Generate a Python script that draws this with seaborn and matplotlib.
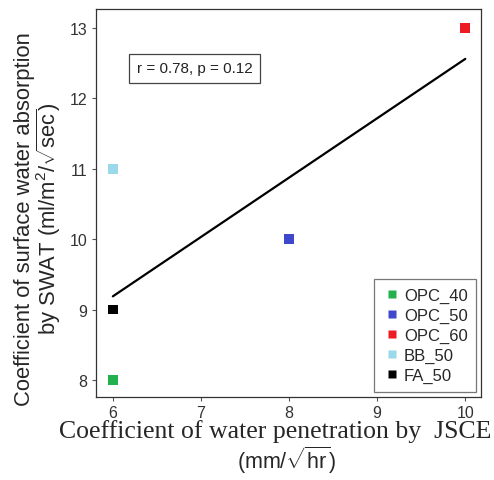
import numpy as np
import pandas as pd
import matplotlib
matplotlib.use("Agg")
import matplotlib.pyplot as plt
import seaborn as sns

# data
mix = ['OPC_40', 'OPC_50', 'OPC_60', 'BB_50', 'FA_50']
jsce = [6, 8, 10, 6, 6]
swat = [8, 10, 13, 11, 9]
colors = ['#22b14c', '#3f48cc', '#ed1c24', '#99d9ea', '#000000']

df = pd.DataFrame({'mix': mix, 'jsce': jsce, 'swat': swat})

sns.set_style('white')
plt.rcParams['font.family'] = ['Liberation Sans', 'DejaVu Sans']
plt.rcParams['mathtext.fontset'] = 'custom'
plt.rcParams['mathtext.rm'] = 'Liberation Sans'
plt.rcParams['mathtext.it'] = 'Liberation Sans:italic'

fig = plt.figure(figsize=(4.94, 4.81), dpi=100)
ax = fig.add_axes([0.194, 0.173, 0.78, 0.806])

sns.regplot(data=df, x='jsce', y='swat', scatter=False, ci=None,
            color='black', line_kws={'lw': 1.6}, ax=ax)
sns.scatterplot(data=df, x='jsce', y='swat', hue='mix', palette=colors,
                marker='s', s=50, edgecolor='none', ax=ax, zorder=3)

ax.set_xlim(5.807, 10.18)
ax.set_ylim(7.76, 13.27)
ax.set_xticks([6, 7, 8, 9, 10])
ax.set_yticks([8, 9, 10, 11, 12, 13])
ax.tick_params(axis='both', labelsize=11.5, labelcolor='#333333',
               length=3, width=0.8, color='#555555', direction='out',
               bottom=True, left=True, pad=3)
for s in ax.spines.values():
    s.set_color('#333333')
    s.set_linewidth(0.9)

ax.text(6.93, 12.43, 'r = 0.78, p = 0.12', fontsize=11, color='#222222',
        ha='center', va='center',
        bbox=dict(boxstyle='square,pad=0.5', fc='white', ec='#444444', lw=0.9))

ax.set_ylabel('Coefficient of surface water absorption\nby SWAT (ml/m$^2$/$\\sqrt{\\mathrm{sec}}$)',
              fontsize=15.8, linespacing=1.0)
ax.yaxis.set_label_coords(-0.085, 0.462)
ax.set_xlabel('')
fig.text(0.557, 0.102, 'Coefficient of water penetration by  JSCE',
         family='Liberation Serif', fontsize=18.5, ha='center', va='center')
fig.text(0.581, 0.042, '(mm/$\\sqrt{\\mathrm{hr}}$)', fontsize=15.5,
         ha='center', va='center')

leg = ax.legend(loc='lower right', fontsize=12, frameon=True, fancybox=False,
                edgecolor='#555555', handletextpad=0.1, labelspacing=0.3,
                borderpad=0.5, markerscale=0.85, handlelength=1.2,
                borderaxespad=0.3, bbox_to_anchor=(1.0, 0.0))
leg.get_frame().set_linewidth(0.9)

fig.savefig('out.png', dpi=100)
